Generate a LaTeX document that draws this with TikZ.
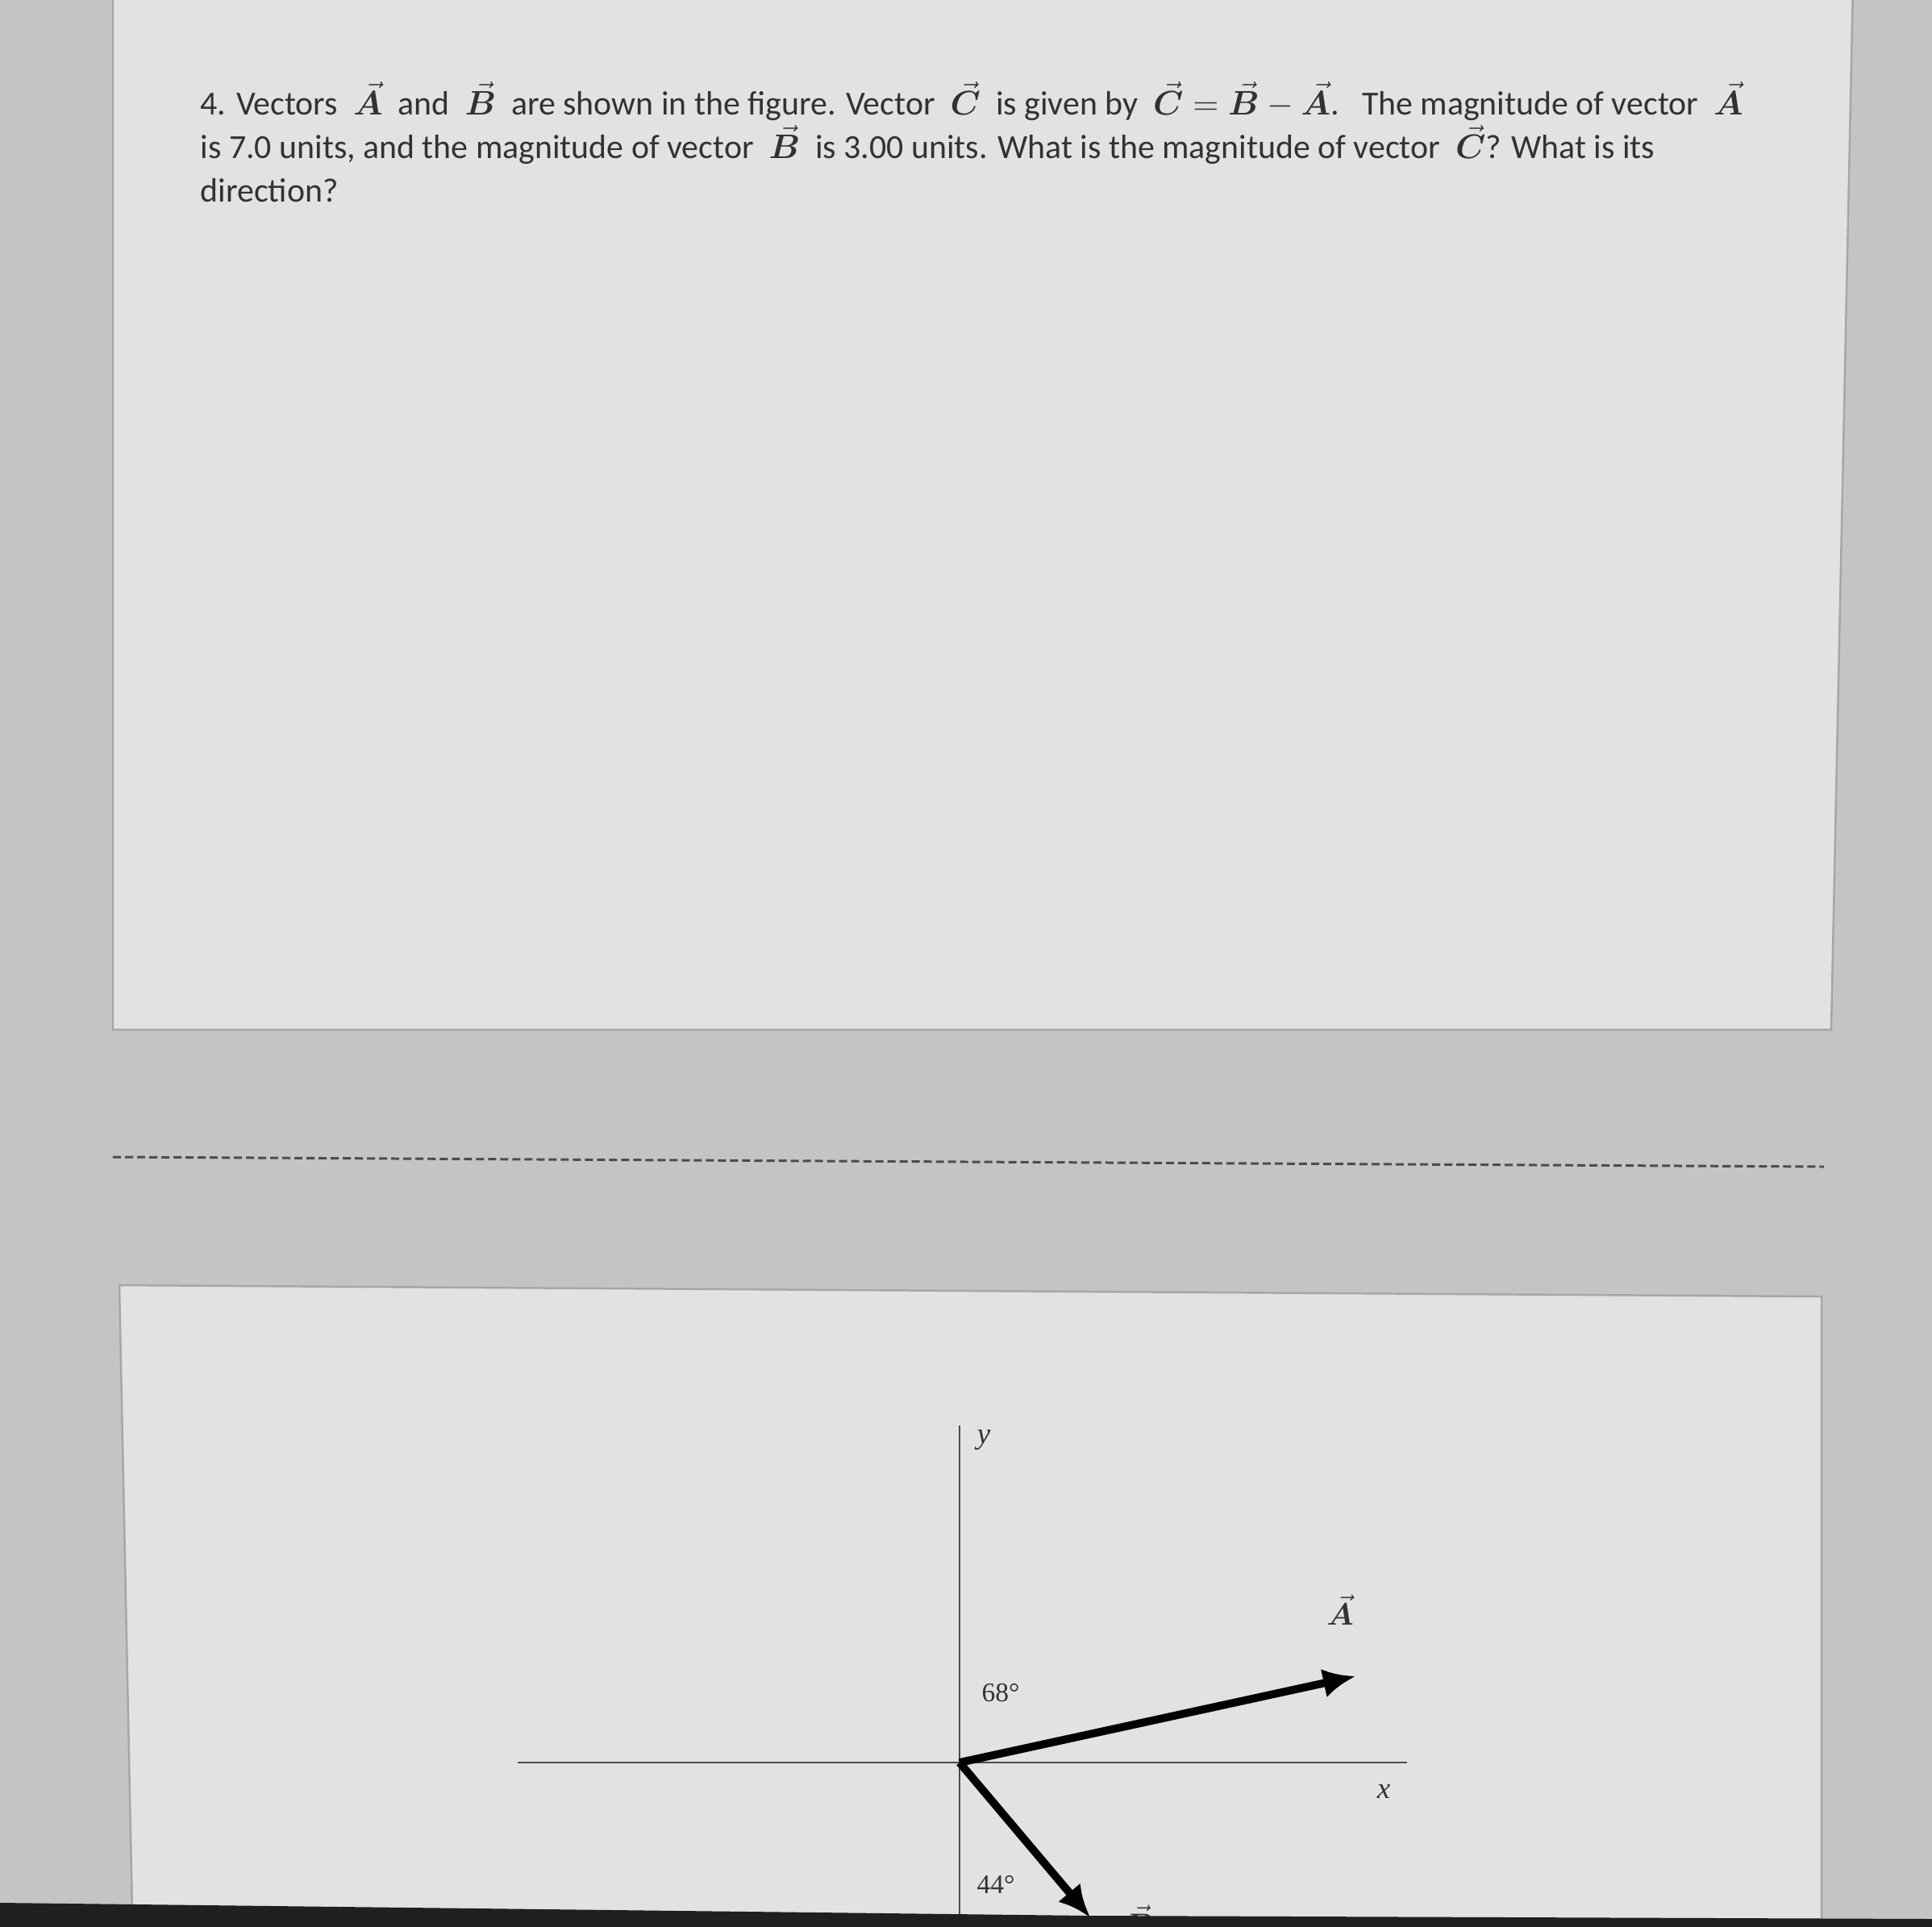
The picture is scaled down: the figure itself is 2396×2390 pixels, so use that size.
\documentclass[tikz,border=0pt]{standalone}
\usepackage{amsmath,bm}
\usepackage{fontspec}
\setmainfont{Carlito}
\newfontfamily\figfont{Liberation Serif}
\usetikzlibrary{arrows.meta}

\newcommand{\vv}[1]{\ensuremath{\vec{\boldsymbol{#1}}}}

\definecolor{screen}{RGB}{196,196,198}
\definecolor{sheet}{RGB}{226,226,229}
\definecolor{ink}{RGB}{50,50,52}

\tikzset{
  sheetbox/.style={fill=sheet, draw=gray!70, line width=0.7pt},
  axis/.style={draw=gray!60!black, line width=0.8pt},
  vecarrow/.style={line width=2.8pt, -{Latex[length=4mm,width=3.6mm]}},
  qline/.style={anchor=base west, inner sep=0pt, text=ink, font=\fontsize{11.9}{14}\selectfont},
  figlabel/.style={inner sep=0pt, text=ink, font=\figfont\fontsize{9.5}{11}\selectfont}
}

\begin{document}
\begin{tikzpicture}[x=0.01cm, y=-0.01cm]
            \useasboundingbox (0,0) rectangle (2396,2390);
            \fill[screen] (0,0) rectangle (2396,2390);

            % Sheets
            \path[sheetbox] (140,-20) -- (2298,-20) -- (2271,1277) -- (140,1277) -- cycle;
            \path[sheetbox] (148,1594) -- (2259,1608) -- (2259,2420) -- (165,2420) -- cycle;
            \draw[gray!60!black, line width=0.85pt, dash pattern=on 0.1cm off 0.05cm] (140,1435) -- (2262,1447);

            % Question
            \node[qline] (q1) at (248,142) {4. Vectors \ \vv{A} \ and \ \vv{B} \ are shown in the figure. Vector \ \vv{C} \ is given by \ $\vec{\boldsymbol{C}}=\vec{\boldsymbol{B}}-\vec{\boldsymbol{A}}$.\ \ \ The magnitude of vector \ \vv{A}};
            \node[qline] (q2) at (248,196) {is 7.0 units, and the magnitude of vector \ \vv{B} \ is 3.00 units. What is the magnitude of vector \ \vv{C}? What is its};
            \node[qline] (q3) at (248,250) {direction?};

            % Axes
            \coordinate (O) at (1190,2186);
            \coordinate (yTop) at (1190,1768);
            \coordinate (yEnd) at (1190,2420);
            \coordinate (xLeft) at (642,2186);
            \coordinate (xRight) at (1745,2186);
            \draw[axis] (yTop) -- (yEnd);
            \draw[axis] (xLeft) -- (xRight);
            \node[figlabel, font=\figfont\itshape\fontsize{10.5}{12}\selectfont] (ylab) at (1220,1786) {y};
            \node[figlabel, font=\figfont\itshape\fontsize{10.5}{12}\selectfont] (xlab) at (1716,2222) {x};

            % Vectors
            \coordinate (Atip) at (1681,2079);
            \coordinate (Btip) at (1352,2378);
            \draw[vecarrow] (O) -- (Atip);
            \draw[vecarrow] (O) -- (Btip);
            \node[figlabel, font=\fontsize{11}{13}\selectfont] (Alab) at (1662,1997) {\vv{A}};
            \node[figlabel, font=\fontsize{11}{13}\selectfont] (Blab) at (1412,2382) {\vv{B}};
            \node[figlabel] (angA) at (1241,2100) {68°};
            \node[figlabel] (angB) at (1235,2337) {44°};

            % Monitor edge
            \fill[black!88] (0,2360) -- (1350,2376) -- (2396,2380) -- (2396,2390) -- (0,2390) -- cycle;
\end{tikzpicture}
\end{document}
